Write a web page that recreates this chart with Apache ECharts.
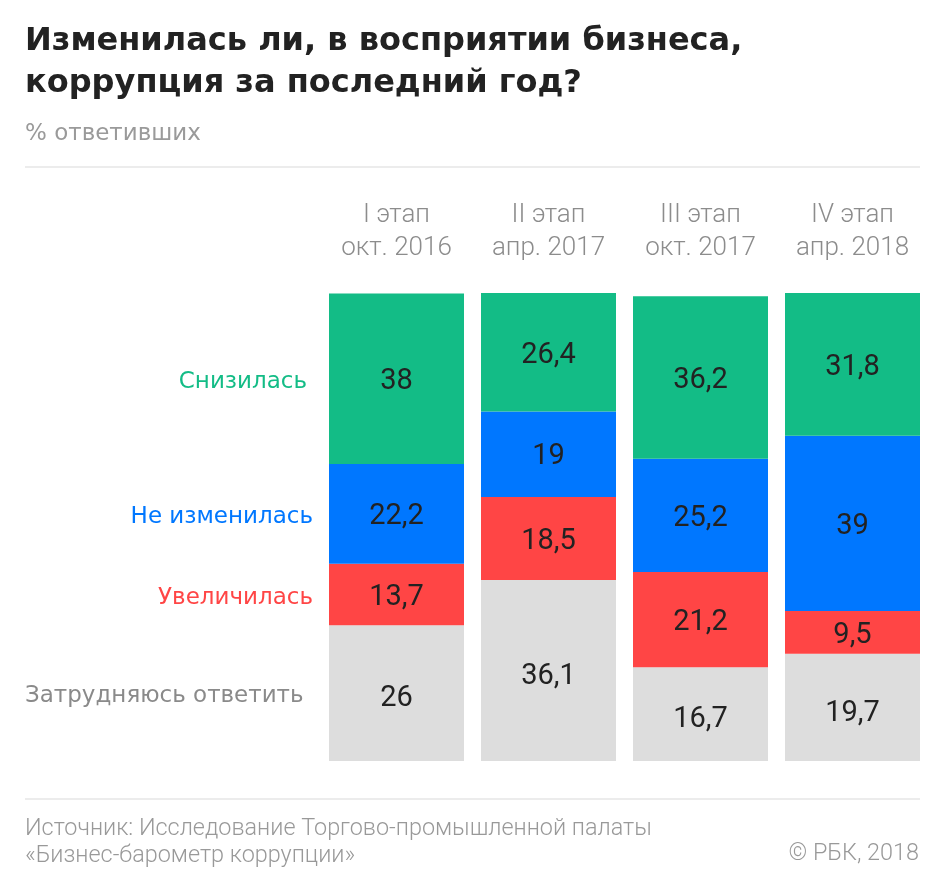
<!DOCTYPE html>
<html><head><meta charset="utf-8">
<script src="https://cdn.jsdelivr.net/npm/echarts@6/dist/echarts.min.js"></script>
<style>html,body{margin:0;padding:0;background:#fff}#c{width:945px;height:880px}</style>
</head><body><div id="c"></div>
<script>
const categories = ['I этап\nокт. 2016', 'II этап\nапр. 2017', 'III этап\nокт. 2017', 'IV этап\nапр. 2018'];
const seriesNames = ['Затрудняюсь ответить', 'Увеличилась', 'Не изменилась', 'Снизилась'];
const hardToSay = [26, 36.1, 16.7, 19.7];
const increased = [13.7, 18.5, 21.2, 9.5];
const unchanged = [22.2, 19, 25.2, 39];
const decreased = [38, 26.4, 36.2, 31.8];
const colors = ['#dddddd', '#ff4545', '#0077ff', '#13bc86'];
const labelColors = ['#8a8a8a', '#ff4545', '#0077ff', '#13bc86'];
const values = [hardToSay, increased, unchanged, decreased];

const FONT = 'Roboto';
const BASE = -4.2;
const chart = echarts.init(document.getElementById('c'));
const fmt = p => String(p.value).replace('.', ',');

chart.setOption({
  animation: false,
  grid: {left: 320.5, right: 16.5, top: 293, bottom: 119},
  xAxis: {
    type: 'category', data: categories, position: 'top',
    axisLine: {show: false}, axisTick: {show: false},
    axisLabel: {color: '#8c8c8c', fontFamily: FONT, fontWeight: 300, fontSize: 26, lineHeight: 33, margin: 28}
  },
  yAxis: {type: 'value', min: BASE, max: 100, startValue: BASE, show: false, splitLine: {show: false}},
  series: values.map((v, i) => ({
    name: seriesNames[i], type: 'bar', stack: 'all', barWidth: 135, data: v,
    itemStyle: {color: colors[i]},
    label: {show: true, position: 'inside', offset: [0, i === 0 ? 6 : 3], formatter: fmt, color: '#222', fontFamily: FONT, fontSize: 29}
  }))
});

const graphics = [
  {type: 'text', left: 25, top: 21, style: {text: 'Изменилась ли, в восприятии бизнеса,\nкоррупция за последний год?', font: 'bold 32px "DejaVu Sans"', fill: '#222', lineHeight: 42}},
  {type: 'text', left: 25, top: 123, style: {text: '% ответивших', font: '23px "DejaVu Sans"', fill: '#9a9a9a'}},
  {type: 'line', shape: {x1: 25, y1: 167, x2: 920, y2: 167}, style: {stroke: '#e6e6e6', lineWidth: 1.5}},
  {type: 'line', shape: {x1: 25, y1: 799, x2: 920, y2: 799}, style: {stroke: '#e6e6e6', lineWidth: 1.5}},
  {type: 'text', left: 25, top: 816, style: {text: 'Источник: Исследование Торгово-промышленной палаты\n«Бизнес-барометр коррупции»', font: '300 23.4px Roboto', fill: '#999', lineHeight: 27}},
  {type: 'text', right: 26, top: 843, style: {text: '© РБК, 2018', font: '300 23.4px Roboto', fill: '#999'}}
];

// side labels aligned with first bar's segments
let cum = BASE;
const sideX = [25, 313, 313, 307];
values.forEach((v, i) => {
  const top = (i === 0 ? 0 : cum) + v[0];
  const mid = (cum + top) / 2;
  cum = top;
  const y = chart.convertToPixel({gridIndex: 0}, [0, mid])[1];
  graphics.push({type: 'text', x: sideX[i], y: y + 3,
    style: {text: seriesNames[i], font: '23px "DejaVu Sans"', fill: labelColors[i], textAlign: i === 0 ? 'left' : 'right', textVerticalAlign: 'middle'}});
});
chart.setOption({graphic: graphics});
</script></body></html>
